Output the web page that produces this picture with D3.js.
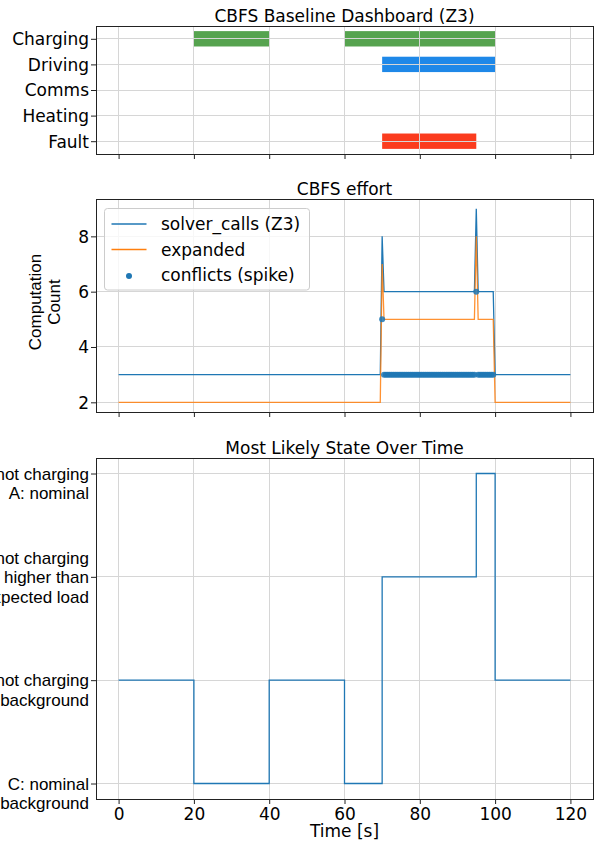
<!DOCTYPE html>
<html>
<head>
<meta charset="utf-8">
<script src="https://cdn.jsdelivr.net/npm/d3@7"></script>
<style>
  body { margin: 0; background: #fff; }
  svg text { font-family: "DejaVu Sans", sans-serif; font-size: 17px; fill: #000; }
  .arial { font-family: "Liberation Sans", Arial, sans-serif; }
</style>
</head>
<body>
<svg id="chart" width="598" height="842"></svg>
<script>
// ---- data ----
const timeTicks = [0, 20, 40, 60, 80, 100, 120];

// panel 1: activity timeline
const activities = ['Charging', 'Driving', 'Comms', 'Heating', 'Fault'];
const activityColors = ['#56a34f', '#1e88e8', '#888', '#888', '#fb3c1e'];
const activitySpans = [
    [[20, 40], [60, 100]],
    [[70, 100]],
    [],
    [],
    [[70, 95]]
];

// panel 2: solver effort (breakpoints of the traces)
const effortTime  = [0, 69.5, 70, 70.5, 94.5, 95, 95.5, 99.5, 100, 120];
const solverCalls = [3, 3, 8, 6, 6, 9, 6, 6, 3, 3];
const expanded    = [2, 2, 7, 5, 5, 8, 5, 5, 2, 2];
const effortTicks = [2, 4, 6, 8];

const conflictTime = [
    70, 70.5, 71, 71.5, 72, 72.5, 73, 73.5, 74, 74.5,
    75, 75.5, 76, 76.5, 77, 77.5, 78, 78.5, 79, 79.5,
    80, 80.5, 81, 81.5, 82, 82.5, 83, 83.5, 84, 84.5,
    85, 85.5, 86, 86.5, 87, 87.5, 88, 88.5, 89, 89.5,
    90, 90.5, 91, 91.5, 92, 92.5, 93, 93.5, 94, 94.5,
    95, 95.5, 96, 96.5, 97, 97.5, 98, 98.5, 99, 99.5
];
const conflictCount = [
    5, 3, 3, 3, 3, 3, 3, 3, 3, 3,
    3, 3, 3, 3, 3, 3, 3, 3, 3, 3,
    3, 3, 3, 3, 3, 3, 3, 3, 3, 3,
    3, 3, 3, 3, 3, 3, 3, 3, 3, 3,
    3, 3, 3, 3, 3, 3, 3, 3, 3, 3,
    6, 3, 3, 3, 3, 3, 3, 3, 3, 3
];

// panel 3: most likely state (step, post)
const stateTime  = [0, 20, 40, 60, 70, 95, 100, 120];
const stateIndex = [1, 0, 1, 0, 2, 3, 1, 1];
const stateLabels = [
    ['C: nominal', 'background'],
    ['not charging', 'background'],
    ['not charging', 'higher than', 'expected load'],
    ['not charging', 'A: nominal']
];

// ---- drawing ----
const svg = d3.select('#chart');
const x = d3.scaleLinear().domain([-6, 126]).range([96, 593]);
const gridColor = '#d6d6d6';
const crisp = (v) => Math.floor(v) + 0.5;

function makeAxes(top, bottom, yDomain, yTicks, title, showX) {
    const y = d3.scaleLinear().domain(yDomain).range([bottom, top]);
    const g = svg.append('g');

    const patches = g.append('g');

    // grid sits above patches, below lines (matplotlib axisbelow='line')
    const grid = g.append('g').attr('stroke', gridColor).attr('stroke-width', 1);
    grid.selectAll('.gx').data(timeTicks).join('line')
        .attr('x1', (d) => crisp(x(d))).attr('x2', (d) => crisp(x(d)))
        .attr('y1', top).attr('y2', bottom);
    grid.selectAll('.gy').data(yTicks).join('line')
        .attr('x1', x.range()[0]).attr('x2', x.range()[1])
        .attr('y1', (d) => crisp(y(d))).attr('y2', (d) => crisp(y(d)));

    const lines = g.append('g');

    g.append('rect')
        .attr('x', crisp(x.range()[0])).attr('y', crisp(top))
        .attr('width', Math.floor(x.range()[1]) - Math.floor(x.range()[0]))
        .attr('height', Math.floor(bottom) - Math.floor(top))
        .attr('fill', 'none').attr('stroke', '#222').attr('stroke-width', 1);

    const xAxis = g.append('g')
        .attr('transform', `translate(0,${bottom})`)
        .call(d3.axisBottom(x).tickValues(timeTicks).tickSize(5).tickPadding(3.5)
            .tickFormat(showX ? d3.format('d') : () => ''));
    xAxis.select('.domain').remove();
    xAxis.attr('font-size', null).attr('font-family', null);
    xAxis.selectAll('.tick line').attr('stroke', '#222');

    const yAxis = g.append('g')
        .attr('transform', `translate(${x.range()[0]},0)`)
        .call(d3.axisLeft(y).tickValues(yTicks).tickSize(5).tickFormat(() => ''));
    yAxis.select('.domain').remove();
    yAxis.attr('font-size', null).attr('font-family', null);
    yAxis.selectAll('.tick line').attr('stroke', '#222');

    g.append('text')
        .attr('x', (x.range()[0] + x.range()[1]) / 2)
        .attr('y', top - 4.5)
        .attr('text-anchor', 'middle')
        .text(title);

    return {g, y, patches, lines};
}

// y tick labels, multi-line, right aligned, middle line centred on the tick
function yLabels(ax, values, labels, cls) {
    values.forEach((v, i) => {
        const rows = labels[i];
        const anchor = Math.floor((rows.length - 1) / 2);
        const t = ax.g.append('text')
            .attr('class', cls || null)
            .attr('text-anchor', 'end');
        rows.forEach((r, k) => {
            t.append('tspan')
                .attr('x', 89)
                .attr('y', ax.y(v) + 6.3 + (k - anchor) * 19.4)
                .text(r);
        });
    });
}

// ---- panel 1 ----
const ax1 = makeAxes(26, 154, [4.5, -0.5], d3.range(activities.length),
                     'CBFS Baseline Dashboard (Z3)', false);
const barH = ax1.y(0.3) - ax1.y(-0.3);
activitySpans.forEach((spans, i) => {
    ax1.patches.selectAll(null).data(spans).join('rect')
        .attr('x', (d) => x(d[0]))
        .attr('width', (d) => x(d[1]) - x(d[0]))
        .attr('y', ax1.y(i - 0.3))
        .attr('height', barH)
        .attr('fill', activityColors[i]);
});
yLabels(ax1, d3.range(activities.length), activities.map((a) => [a]));

// ---- panel 2 ----
const ax2 = makeAxes(199, 412, [1.65, 9.35], effortTicks, 'CBFS effort', false);
const effortLine = (vals) => d3.line()
    .x((d, i) => x(effortTime[i]))
    .y((d) => ax2.y(d))(vals);

ax2.lines.append('path')
    .attr('d', effortLine(solverCalls))
    .attr('fill', 'none').attr('stroke', '#1f77b4').attr('stroke-width', 1.3);
ax2.lines.append('path')
    .attr('d', effortLine(expanded))
    .attr('fill', 'none').attr('stroke', '#ff7f0e').attr('stroke-width', 1.3)
    .attr('stroke-opacity', 0.85);
ax2.lines.selectAll('circle').data(conflictTime).join('circle')
    .attr('cx', (d) => x(d))
    .attr('cy', (d, i) => ax2.y(conflictCount[i]))
    .attr('r', 3)
    .attr('fill', '#1f77b4').attr('fill-opacity', 0.85);
yLabels(ax2, effortTicks, effortTicks.map((d) => [String(d)]));

ax2.g.append('text')
    .attr('class', 'arial')
    .attr('transform', 'translate(40.7,302) rotate(-90)')
    .attr('text-anchor', 'middle')
    .call((t) => {
        t.append('tspan').attr('x', 0).attr('dy', 0).text('Computation');
        t.append('tspan').attr('x', 0).attr('dy', 19.3).text('Count');
    });

// legend
const legend = ax2.g.append('g').attr('transform', 'translate(104.5,208.5)');
legend.append('rect')
    .attr('width', 205).attr('height', 81.5).attr('rx', 3)
    .attr('fill', '#fff').attr('fill-opacity', 0.8)
    .attr('stroke', '#cccccc').attr('stroke-width', 1);
const legendRows = [
    {label: 'solver_calls (Z3)', kind: 'line', color: '#1f77b4'},
    {label: 'expanded', kind: 'line', color: '#ff7f0e'},
    {label: 'conflicts (spike)', kind: 'dot', color: '#1f77b4'}
];
legendRows.forEach((r, i) => {
    const ry = 15.5 + i * 25.5;
    if (r.kind === 'line') {
        legend.append('line')
            .attr('x1', 7).attr('x2', 42).attr('y1', ry).attr('y2', ry)
            .attr('stroke', r.color).attr('stroke-width', 1.3);
    } else {
        legend.append('circle')
            .attr('cx', 24.5).attr('cy', ry + 1).attr('r', 3)
            .attr('fill', r.color);
    }
    legend.append('text')
        .attr('x', 56.5).attr('y', ry + 6)
        .text(r.label);
});

// ---- panel 3 ----
const ax3 = makeAxes(458, 799, [-0.15, 3.15], d3.range(stateLabels.length),
                     'Most Likely State Over Time', true);
ax3.lines.append('path')
    .attr('d', d3.line().curve(d3.curveStepAfter)
        .x((d, i) => x(stateTime[i]))
        .y((d) => ax3.y(d))(stateIndex))
    .attr('fill', 'none').attr('stroke', '#1f77b4').attr('stroke-width', 1.3);
yLabels(ax3, d3.range(stateLabels.length), stateLabels, 'arial');

svg.append('text')
    .attr('x', (x.range()[0] + x.range()[1]) / 2)
    .attr('y', 837)
    .attr('text-anchor', 'middle')
    .text('Time [s]');
</script>
</body>
</html>
